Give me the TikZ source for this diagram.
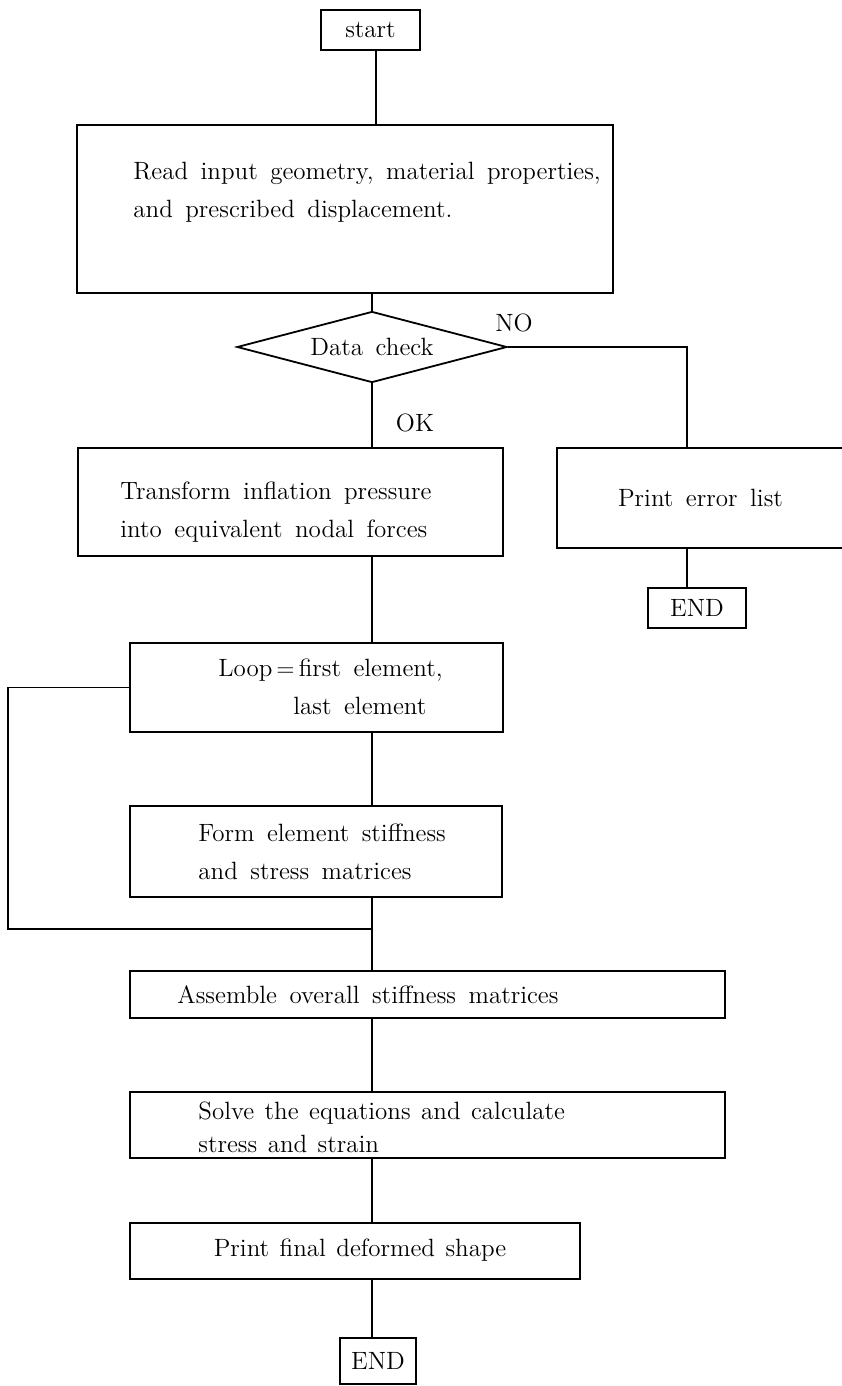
\documentclass[tikz,border=0pt]{standalone}
\usetikzlibrary{shapes.geometric}
\newcommand\mywsp{\spaceskip=0.5em plus 0.1em minus 0.05em\relax}
\newcommand\mywspb{\spaceskip=0.42em plus 0.1em minus 0.05em\relax}
\begin{document}
\begin{tikzpicture}[x=0.5pt,y=-0.5pt,
  every node/.style={font=\fontsize{12.5}{19}\selectfont\mywsp},
  narrow/.style={font=\fontsize{12.5}{16.5}\selectfont\mywspb},
  box/.style={draw,line width=0.9pt,inner sep=0pt,rectangle},
  txt/.style={inner sep=0pt,align=left,anchor=west},
  ln/.style={line width=0.9pt}]
\useasboundingbox (0,0) rectangle (841,1386);
\coordinate (m) at (372,0);
\coordinate (nx) at (687,0);
% boxes
\node[box,minimum width=49.5pt,minimum height=20pt] (start) at (370.5,30) {start};
\node[box,minimum width=268pt,minimum height=84pt] (read) at (345,209) {};
\node[draw,line width=0.9pt,shape=diamond,aspect=3.8,inner sep=0pt,minimum width=135pt,minimum height=35.5pt] (dc) at (372,347) {Data check};
\node[box,minimum width=146.5pt,minimum height=50pt] (err) at (703.5,498) {\hspace*{-3pt}Print error list};
\node[box,minimum width=49pt,minimum height=20pt] (end1) at (697,608) {END};
\node[box,minimum width=212.5pt,minimum height=54pt] (tr) at (290.5,502) {};
\node[box,minimum width=186.5pt,minimum height=44.5pt] (loop) at (316.5,687.5) {};
\node[box,minimum width=186pt,minimum height=45.5pt] (form) at (316,851.5) {};
\node[box,minimum width=297.5pt,minimum height=23.5pt] (asm) at (427.5,994.5) {};
\node[box,minimum width=297.5pt,minimum height=33pt] (solve) at (427.5,1125) {};
\node[box,minimum width=225pt,minimum height=28pt] (pfin) at (355,1251) {};
\node[box,minimum width=38pt,minimum height=23pt] (end2) at (378,1361) {END};
% texts
\node[txt] (readtxt) at (133,192) {Read input geometry, material properties,\\and prescribed displacement.};
\node[txt] (trtxt) at (120,512) {Transform inflation pressure\\into equivalent nodal forces};
\node[txt] (looptxt) at (218,687) {Loop$\,=\,$first element,\\\hspace*{37.5pt}last element};
\node[txt] (formtxt) at (198,852) {Form element stiffness\\and stress matrices};
\node[inner sep=0pt] (asmtxt) at (368,995) {Assemble overall stiffness matrices};
\node[txt,narrow] (solvetxt) at (198,1127) {Solve the equations and calculate\\stress and strain};
\node[inner sep=0pt,narrow] (pfintxt) at (360,1250) {Print final deformed shape};
\node[inner sep=0pt] (no) at (514,323) {NO};
\node[inner sep=0pt] (ok) at (415,423) {OK};
% connectors
\draw[ln] ([xshift=2.75pt]start.south) -- ([xshift=2.75pt]start.south |- read.north);
\draw[ln] (read.south -| dc.north) -- (dc.north);
\draw[ln] (dc.south) -- (dc.south |- tr.north);
\draw[ln] (dc.east) -| (err.north -| nx);
\draw[ln] (err.south -| nx) -- (end1.north -| nx);
\draw[ln] (tr.south -| m) -- (loop.north -| m);
\draw[ln] (loop.south -| m) -- (form.north -| m);
\draw[ln] (form.south -| m) -- (asm.north -| m);
\coordinate (lx) at (8,929);
\coordinate (j) at (372,929);
\draw[ln] (loop.west) -| (lx) -- (j);
\draw[ln] (asm.south -| m) -- (solve.north -| m);
\draw[ln] (solve.south -| m) -- (pfin.north -| m);
\draw[ln] (pfin.south -| m) -- (end2.north -| m);
\end{tikzpicture}
\end{document}
